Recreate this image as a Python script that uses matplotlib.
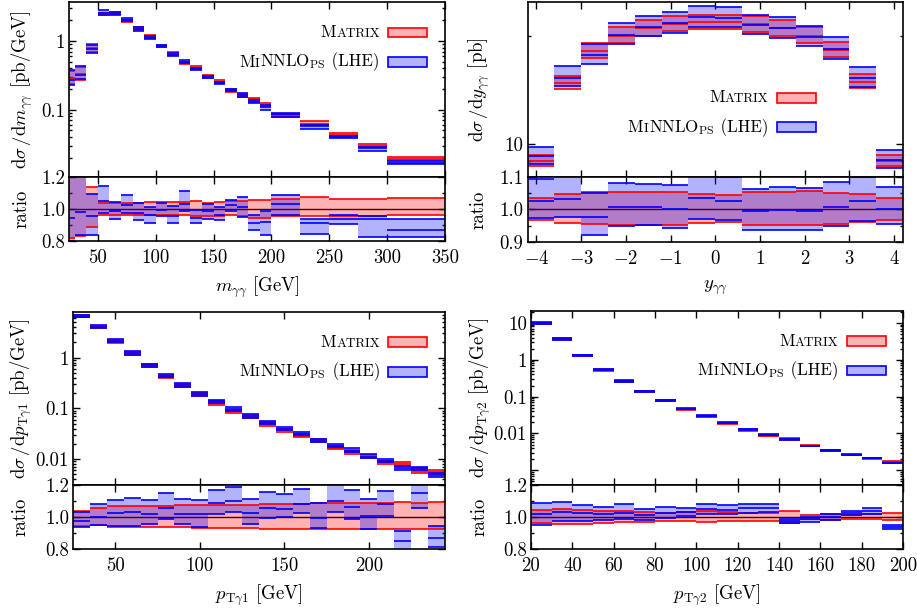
import matplotlib
matplotlib.use("Agg")
import matplotlib.pyplot as plt
import numpy as np
from matplotlib.offsetbox import TextArea, HPacker, VPacker, DrawingArea, AnchoredOffsetbox
from matplotlib.patches import Rectangle
from matplotlib.ticker import FixedLocator, FixedFormatter, LogLocator, NullFormatter

plt.rcParams['font.family'] = 'serif'
plt.rcParams['font.serif'] = ['cmr10']
plt.rcParams['mathtext.fontset'] = 'cm'
plt.rcParams['axes.formatter.use_mathtext'] = True
plt.rcParams['axes.linewidth'] = 1.2

RED = '#ff0000'
BLUE = '#0000ff'
FS = 13.5
LFS = 12.2

# ---------------- m_gamma gamma ----------------
m_edges = [25, 30, 40, 50, 60, 70, 80, 90, 100, 110, 120, 130, 140, 150, 160, 170,
           180, 190, 200, 225, 250, 275, 300, 350]
m_mtx = [0.29, 0.33, 0.79, 2.45, 2.55, 1.98, 1.52, 1.16, 0.85, 0.66, 0.48, 0.41, 0.305,
         0.255, 0.19, 0.163, 0.142, 0.118, 0.083, 0.063, 0.0435, 0.030, 0.0195]
m_mtx_lo = [0.82, 0.83, 0.886, 0.965, 0.965, 0.965, 0.96, 0.96, 0.96, 0.96, 0.96, 0.955,
            0.955, 0.955, 0.96, 0.955, 0.945, 0.945, 0.955, 0.955, 0.958, 0.958, 0.962]
m_mtx_hi = [1.25, 1.25, 1.136, 1.04, 1.04, 1.035, 1.04, 1.046, 1.046, 1.045, 1.045, 1.05,
            1.04, 1.046, 1.05, 1.05, 1.057, 1.057, 1.06, 1.072, 1.065, 1.062, 1.068]
m_mnl_lo = [0.80, 0.84, 0.84, 0.975, 0.935, 0.975, 0.93, 0.915, 0.955, 0.91, 0.985, 0.91,
            0.935, 0.93, 0.985, 0.95, 0.87, 0.835, 0.96, 0.845, 0.905, 0.826, 0.826]
m_mnl_c = [0.945, 0.98, 0.955, 1.05, 0.985, 1.025, 0.975, 0.965, 0.995, 0.955, 1.03, 0.945,
           0.985, 0.96, 1.025, 1.01, 0.915, 0.92, 1.03, 0.91, 0.935, 0.935, 0.87]
m_mnl_hi = [1.3, 1.3, 1.093, 1.142, 1.045, 1.087, 1.04, 1.015, 1.04, 1.02, 1.11, 0.995,
            1.03, 1.01, 1.055, 1.075, 0.965, 0.99, 1.09, 0.94, 0.96, 0.955, 0.935]

# ---------------- y_gamma gamma ----------------
y_edges = [-4.2, -3.6, -3.0, -2.4, -1.8, -1.2, -0.6, 0.0, 0.6, 1.2, 1.8, 2.4, 3.0, 3.6, 4.2]
y_mtx = [9.0, 14.8, 18.1, 20.0, 21.0, 21.6, 21.8, 21.8, 21.5, 21.0, 20.0, 18.2, 14.9, 9.0]
y_mtx_lo = [0.967, 0.958, 0.955, 0.953, 0.953, 0.953, 0.959, 0.96, 0.951, 0.951, 0.952,
            0.956, 0.96, 0.968]
y_mtx_hi = [1.034, 1.047, 1.055, 1.055, 1.053, 1.053, 1.048, 1.045, 1.055, 1.055, 1.056,
            1.052, 1.047, 1.034]
y_mnl_lo = [0.975, 0.978, 0.922, 0.95, 0.951, 0.943, 0.97, 0.968, 0.938, 0.938, 0.936,
            0.949, 0.965, 0.954]
y_mnl_c = [1.027, 1.032, 0.978, 1.007, 1.007, 1.002, 1.034, 1.027, 0.994, 0.997, 0.994,
           1.007, 1.026, 1.002]
y_mnl_hi = [1.093, 1.11, 1.05, 1.082, 1.079, 1.075, 1.11, 1.10, 1.064, 1.07, 1.066,
            1.086, 1.10, 1.068]

# ---------------- pT gamma 1 ----------------
p1_edges = [25, 35, 45, 55, 65, 75, 85, 95, 105, 115, 125, 135, 145, 155, 165, 175, 185,
            195, 205, 215, 225, 235, 245]
p1_mtx = [6.6, 4.0, 2.1, 1.18, 0.69, 0.415, 0.28, 0.188, 0.126, 0.088, 0.069, 0.049, 0.037,
          0.0288, 0.0232, 0.0168, 0.0139, 0.0112, 0.0086, 0.0079, 0.0058, 0.0056]
p1_mtx_lo = [0.945, 0.95, 0.94, 0.935, 0.935, 0.935, 0.935, 0.932, 0.93, 0.93, 0.93, 0.928,
             0.928, 0.928, 0.928, 0.928, 0.928, 0.926, 0.926, 0.925, 0.925, 0.924]
p1_mtx_hi = [1.035, 1.055, 1.07, 1.07, 1.07, 1.07, 1.072, 1.072, 1.075, 1.075, 1.078, 1.08,
             1.082, 1.082, 1.085, 1.085, 1.088, 1.09, 1.09, 1.092, 1.085, 1.095]
p1_mnl_lo = [0.935, 0.95, 0.945, 0.944, 0.958, 0.99, 0.954, 0.94, 1.02, 1.03, 0.958, 0.996,
             1.0, 1.023, 0.93, 1.03, 0.985, 0.923, 1.006, 0.79, 1.058, 0.81]
p1_mnl_c = [0.975, 1.0, 1.025, 1.031, 1.02, 1.058, 1.02, 1.017, 1.09, 1.1, 1.027, 1.058,
            1.048, 1.08, 0.995, 1.1, 1.063, 1.006, 1.08, 0.85, 1.15, 0.87]
p1_mnl_hi = [1.03, 1.08, 1.105, 1.117, 1.106, 1.152, 1.115, 1.106, 1.167, 1.19, 1.11, 1.158,
             1.142, 1.173, 1.085, 1.21, 1.17, 1.11, 1.163, 0.912, 1.22, 0.944]

# ---------------- pT gamma 2 ----------------
p2_edges = [20, 30, 40, 50, 60, 70, 80, 90, 100, 110, 120, 130, 140, 150, 160, 170, 180,
            190, 200]
p2_mtx = [9.6, 3.6, 1.28, 0.525, 0.255, 0.137, 0.077, 0.0455, 0.0285, 0.0188, 0.0123,
          0.0088, 0.0071, 0.0047, 0.0035, 0.0026, 0.0021, 0.00172]
p2_mtx_lo = [0.96, 0.958, 0.958, 0.965, 0.969, 0.971, 0.975, 0.975, 0.971, 0.975, 0.978,
             0.978, 0.965, 0.985, 0.98, 0.985, 0.985, 0.979]
p2_mtx_hi = [1.044, 1.05, 1.044, 1.038, 1.038, 1.033, 1.027, 1.03, 1.038, 1.03, 1.022,
             1.022, 1.038, 1.015, 1.02, 1.01, 1.02, 1.027]
p2_mnl_lo = [0.95, 0.975, 0.975, 0.979, 0.985, 0.981, 0.992, 1.006, 1.017, 1.017, 1.027,
             1.033, 0.96, 0.969, 0.981, 1.01, 1.02, 0.925]
p2_mnl_c = [1.02, 1.03, 1.027, 1.021, 1.027, 1.01, 1.027, 1.033, 1.048, 1.044, 1.058,
            1.054, 0.975, 0.985, 1.002, 1.027, 1.038, 0.935]
p2_mnl_hi = [1.09, 1.094, 1.075, 1.065, 1.08, 1.048, 1.063, 1.058, 1.083, 1.073, 1.08,
             1.08, 0.99, 1.002, 1.02, 1.038, 1.058, 0.948]

W, H = 917, 612
fig = plt.figure(figsize=(W / 100, H / 100), dpi=100)


def px_axes(l, r, t, b):
    return fig.add_axes([l / W, 1 - b / H, (r - l) / W, (b - t) / H])


def draw_band(ax, edges, lo, hi, color, mid=None):
    edges = np.asarray(edges)
    lo = np.asarray(lo)
    hi = np.asarray(hi)
    ax.bar(edges[:-1], hi - lo, bottom=lo, width=np.diff(edges), align='edge',
           color=color, alpha=0.3, lw=0, zorder=2)
    lines = [lo, hi] if mid is None else [lo, mid, hi]
    for v in lines:
        ax.hlines(v, edges[:-1], edges[1:], color=color, lw=1.2, zorder=2.5)


def text_box(txt, size):
    return TextArea(txt, textprops=dict(size=size, family='serif'))


def swatch(color):
    da = DrawingArea(28, 7, 0, 0)
    da.add_artist(Rectangle((0, 0), 28, 7, facecolor=color, alpha=0.3, lw=0))
    da.add_artist(Rectangle((0, 0), 28, 7, facecolor='none', edgecolor=color, lw=1.2))
    return da


def add_legend(ax, x, y):
    # fake small caps by mixing two sizes
    mtx_txt = HPacker(children=[text_box('M', LFS), text_box('ATRIX', LFS * 0.78)],
                      align='baseline', pad=0, sep=0.3)
    row1 = HPacker(children=[mtx_txt, swatch(RED)], align='center', pad=0, sep=6)
    mnl_txt = HPacker(children=[text_box('M', LFS), text_box('I', LFS * 0.78),
                                text_box(r'$\mathrm{NNLO}_{\mathrm{PS}}$', LFS),
                                text_box(' (LHE)', LFS)],
                      align='baseline', pad=0, sep=0.3)
    row2 = HPacker(children=[mnl_txt, swatch(BLUE)], align='center', pad=0, sep=6)
    box = VPacker(children=[row1, row2], align='right', pad=0, sep=9)
    ab = AnchoredOffsetbox(loc='upper right', child=box, pad=0, borderpad=0, frameon=False,
                           bbox_to_anchor=(x, y), bbox_transform=ax.transAxes)
    ax.add_artist(ab)


def panel(box, edges, mtx, mtx_lo, mtx_hi, mnl_lo, mnl_c, mnl_hi, xlim, ylim, yticks,
          yticklabels, rlim, rticks, rminor, xticks, xticklabels, ylabel, xlabel,
          leg_xy, labx):
    l, r, t, m, b = box
    ax = px_axes(l, r, t, m)
    axr = px_axes(l, r, m, b)
    mtx = np.asarray(mtx)

    # main panel
    draw_band(ax, edges, mtx * np.asarray(mtx_lo), mtx * np.asarray(mtx_hi), RED, mid=mtx)
    draw_band(ax, edges, mtx * np.asarray(mnl_lo), mtx * np.asarray(mnl_hi), BLUE,
              mid=mtx * np.asarray(mnl_c))
    ax.set_yscale('log')
    ax.set_xlim(*xlim)
    ax.set_ylim(*ylim)
    ax.yaxis.set_major_locator(FixedLocator(yticks))
    ax.yaxis.set_major_formatter(FixedFormatter(yticklabels))
    ax.yaxis.set_minor_locator(LogLocator(base=10, subs=np.arange(2, 10), numticks=20))
    ax.yaxis.set_minor_formatter(NullFormatter())
    ax.set_xticks(xticks)
    ax.tick_params(labelbottom=False)

    # ratio panel
    axr.axhline(1.0, color='k', lw=1.0, zorder=1)
    draw_band(axr, edges, mtx_lo, mtx_hi, RED)
    draw_band(axr, edges, mnl_lo, mnl_hi, BLUE, mid=mnl_c)
    axr.set_xlim(*xlim)
    axr.set_ylim(*rlim)
    axr.set_yticks(rticks)
    axr.set_yticklabels(['%.1f' % v for v in rticks])
    axr.set_yticks(rminor, minor=True)
    axr.set_xticks(xticks)
    axr.set_xticklabels(xticklabels)

    for a in (ax, axr):
        a.tick_params(which='both', direction='in', top=True, right=True, labelsize=FS,
                      width=1.0)
        a.tick_params(which='major', length=5)
        a.tick_params(which='minor', length=2.5)
        a.tick_params(axis='x', pad=6)
        a.tick_params(axis='y', pad=3)

    ax.set_ylabel(ylabel, fontsize=FS, va='center')
    ax.yaxis.set_label_coords(labx / W, 1 - (t + m) / 2 / H, transform=fig.transFigure)
    axr.set_ylabel('ratio', fontsize=FS, va='center')
    axr.yaxis.set_label_coords(labx / W, 1 - (m + b) / 2 / H, transform=fig.transFigure)
    axr.set_xlabel(xlabel, fontsize=FS, va='center')
    axr.xaxis.set_label_coords((l + r) / 2 / W, 1 - (b + 46) / H, transform=fig.transFigure)

    add_legend(ax, *leg_xy)
    return ax, axr


panel((69, 445, 2, 177, 241), m_edges, m_mtx, m_mtx_lo, m_mtx_hi, m_mnl_lo, m_mnl_c,
      m_mnl_hi, (25, 350), (0.0105, 3.7), [0.1, 1], ['0.1', '1'], (0.8, 1.2),
      [0.8, 1.0, 1.2], [0.9, 1.1], [50, 100, 150, 200, 250, 300, 350],
      ['50', '100', '150', '200', '250', '300', '350'],
      r'$\mathrm{d}\sigma\,/\mathrm{d}m_{\gamma\gamma}$ [pb/GeV]',
      r'$m_{\gamma\gamma}$ [GeV]', (0.952, 0.87), 22)

panel((527.5, 903, 2, 177, 242), y_edges, y_mtx, y_mtx_lo, y_mtx_hi, y_mnl_lo, y_mnl_c,
      y_mnl_hi, (-4.2, 4.2), (8.1, 24.8), [10], ['10'], (0.9, 1.1),
      [0.9, 1.0, 1.1], [0.95, 1.05], [-4, -3, -2, -1, 0, 1, 2, 3, 4],
      ['$-4$', '$-3$', '$-2$', '$-1$', '0', '1', '2', '3', '4'],
      r'$\mathrm{d}\sigma\,/\mathrm{d}y_{\gamma\gamma}$ [pb]',
      r'$y_{\gamma\gamma}$', (0.768, 0.497), 479)

panel((73, 445, 312, 485, 549), p1_edges, p1_mtx, p1_mtx_lo, p1_mtx_hi, p1_mnl_lo, p1_mnl_c,
      p1_mnl_hi, (25, 245), (0.0031, 7.9), [0.01, 0.1, 1], ['0.01', '0.1', '1'], (0.8, 1.2),
      [0.8, 1.0, 1.2], [0.9, 1.1], [50, 100, 150, 200], ['50', '100', '150', '200'],
      r'$\mathrm{d}\sigma\,/\mathrm{d}p_{\mathrm{T}\gamma1}$ [pb/GeV]',
      r'$p_{\mathrm{T}\gamma1}$ [GeV]', (0.952, 0.87), 21)

panel((531, 903, 311, 485, 549), p2_edges, p2_mtx, p2_mtx_lo, p2_mtx_hi, p2_mnl_lo, p2_mnl_c,
      p2_mnl_hi, (20, 200), (0.0004, 21), [0.001, 0.01, 0.1, 1, 10],
      ['', '0.01', '0.1', '1', '10'], (0.8, 1.2),
      [0.8, 1.0, 1.2], [0.9, 1.1], [20, 40, 60, 80, 100, 120, 140, 160, 180, 200],
      ['20', '40', '60', '80', '100', '120', '140', '160', '180', '200'],
      r'$\mathrm{d}\sigma\,/\mathrm{d}p_{\mathrm{T}\gamma2}$ [pb/GeV]',
      r'$p_{\mathrm{T}\gamma2}$ [GeV]', (0.954, 0.872), 480)

fig.savefig('out.png', dpi=100)
